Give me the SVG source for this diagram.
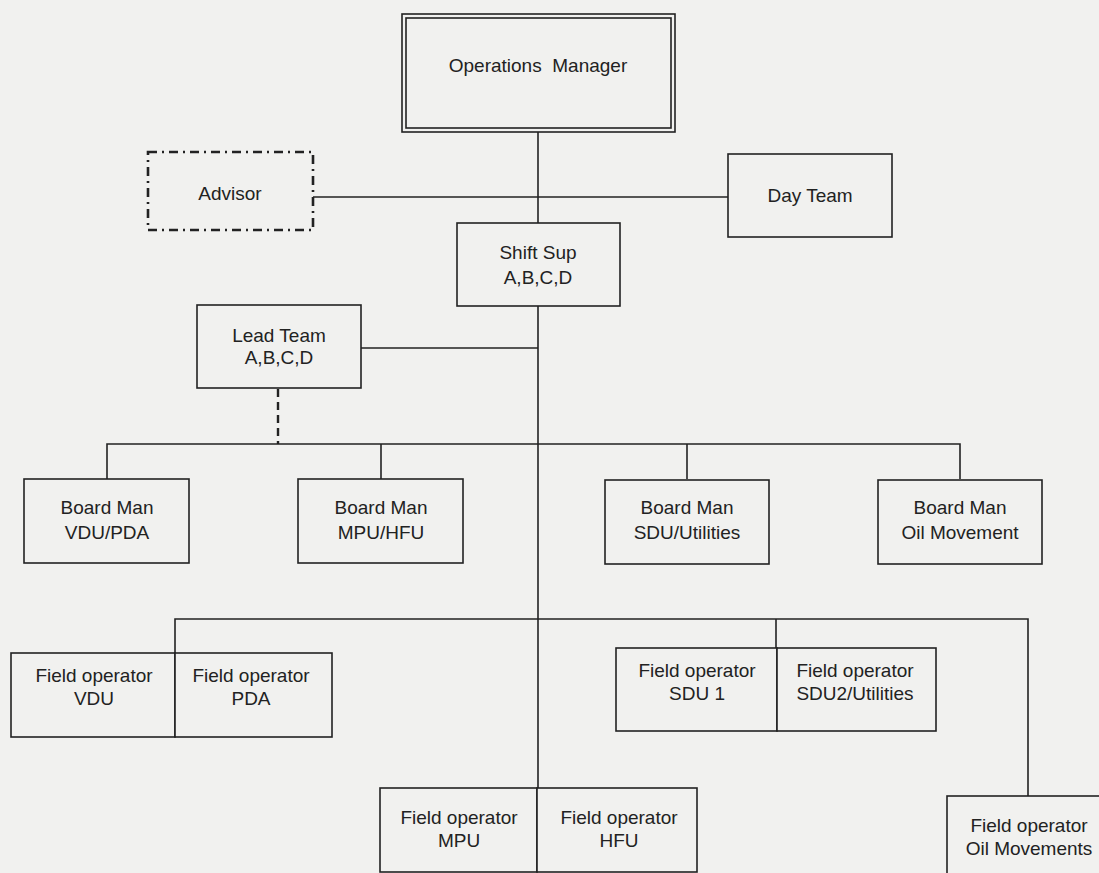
<svg xmlns="http://www.w3.org/2000/svg" width="1099" height="873" viewBox="0 0 1099 873">
<style>
.bg{fill:#f1f1ef}
.box{fill:#f1f1ef;stroke:#222;stroke-width:1.6}
.ln{fill:none;stroke:#222;stroke-width:1.6}
.dash{fill:none;stroke:#222;stroke-width:2.4;stroke-dasharray:8 5}
.dd{fill:#f1f1ef;stroke:#222;stroke-width:2.6;stroke-dasharray:9 5 2 5}
text{font-family:"Liberation Sans",Arial,sans-serif;font-size:19px;fill:#222;text-anchor:middle}
</style>
<rect class="bg" x="0" y="0" width="1099" height="873"/>
<g id="connectors">
<line class="ln" x1="538" y1="132" x2="538" y2="223"/>
<line class="ln" x1="313" y1="197" x2="728" y2="197"/>
<line class="ln" x1="538" y1="306" x2="538" y2="788"/>
<line class="ln" x1="361" y1="348" x2="538" y2="348"/>
<line class="dash" x1="278" y1="389" x2="278" y2="444"/>
<polyline class="ln" points="107,479 107,444 960,444 960,479"/>
<line class="ln" x1="381" y1="444" x2="381" y2="479"/>
<line class="ln" x1="687" y1="444" x2="687" y2="479"/>
<polyline class="ln" points="175,653 175,619 1028,619 1028,796"/>
<line class="ln" x1="776" y1="619" x2="776" y2="648"/>
</g>
<g id="ops-manager">
<rect class="box" x="402" y="14" width="273" height="118"/>
<rect class="box" x="406" y="18" width="265" height="110"/>
<text x="538" y="72" xml:space="preserve">Operations  Manager</text>
</g>
<g id="advisor">
<rect class="dd" x="148" y="152" width="165" height="78"/>
<text x="230" y="200">Advisor</text>
</g>
<g id="day-team">
<rect class="box" x="728" y="154" width="164" height="83"/>
<text x="810" y="202">Day Team</text>
</g>
<g id="shift-sup">
<rect class="box" x="457" y="223" width="163" height="83"/>
<text x="538" y="259">Shift Sup</text>
<text x="538" y="284">A,B,C,D</text>
</g>
<g id="lead-team">
<rect class="box" x="197" y="305" width="164" height="83"/>
<text x="279" y="342">Lead Team</text>
<text x="279" y="364">A,B,C,D</text>
</g>
<g id="bm-vdu">
<rect class="box" x="24" y="479" width="165" height="84"/>
<text x="107" y="514">Board Man</text>
<text x="107" y="539">VDU/PDA</text>
</g>
<g id="bm-mpu">
<rect class="box" x="298" y="479" width="165" height="84"/>
<text x="381" y="514">Board Man</text>
<text x="381" y="539">MPU/HFU</text>
</g>
<g id="bm-sdu">
<rect class="box" x="605" y="480" width="164" height="84"/>
<text x="687" y="514">Board Man</text>
<text x="687" y="539">SDU/Utilities</text>
</g>
<g id="bm-oil">
<rect class="box" x="878" y="480" width="164" height="84"/>
<text x="960" y="514">Board Man</text>
<text x="960" y="539">Oil Movement</text>
</g>
<g id="fo-vdu">
<rect class="box" x="11" y="653" width="164" height="84"/>
<text x="94" y="682">Field operator</text>
<text x="94" y="705">VDU</text>
</g>
<g id="fo-pda">
<rect class="box" x="175" y="653" width="157" height="84"/>
<text x="251" y="682">Field operator</text>
<text x="251" y="705">PDA</text>
</g>
<g id="fo-sdu1">
<rect class="box" x="616" y="648" width="161" height="83"/>
<text x="697" y="677">Field operator</text>
<text x="697" y="700">SDU 1</text>
</g>
<g id="fo-sdu2">
<rect class="box" x="777" y="648" width="159" height="83"/>
<text x="855" y="677">Field operator</text>
<text x="855" y="700">SDU2/Utilities</text>
</g>
<g id="fo-mpu">
<rect class="box" x="380" y="788" width="157" height="84"/>
<text x="459" y="824">Field operator</text>
<text x="459" y="847">MPU</text>
</g>
<g id="fo-hfu">
<rect class="box" x="537" y="788" width="160" height="84"/>
<text x="619" y="824">Field operator</text>
<text x="619" y="847">HFU</text>
</g>
<g id="fo-oil">
<rect class="box" x="947" y="796" width="160" height="90"/>
<text x="1029" y="832">Field operator</text>
<text x="1029" y="855">Oil Movements</text>
</g>
</svg>
